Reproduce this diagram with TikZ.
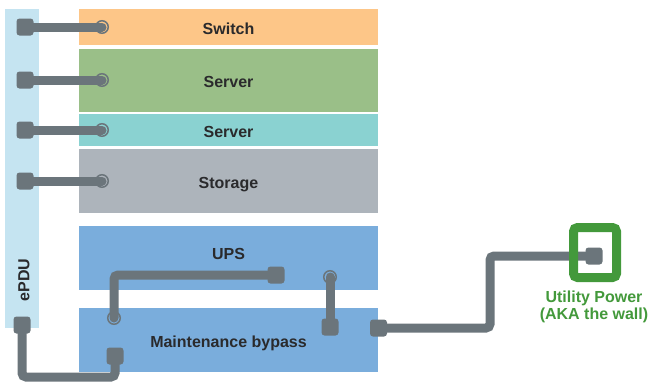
\documentclass[tikz,border=0pt]{standalone}
\usepackage{fontspec}
\setmainfont{Liberation Sans}
\usetikzlibrary{positioning}
\definecolor{cablegray}{HTML}{6B757B}
\definecolor{labeltext}{HTML}{2A2A2C}
\definecolor{switchc}{HTML}{FDC688}
\definecolor{serverc}{HTML}{9ABF88}
\definecolor{serverbc}{HTML}{8AD2D1}
\definecolor{storagec}{HTML}{ADB4BB}
\definecolor{upsc}{HTML}{7AADDC}
\definecolor{epduc}{HTML}{C5E4F1}
\definecolor{wallgreen}{HTML}{43993B}
\pgfdeclarelayer{bg}
\pgfdeclarelayer{wires}
\pgfsetlayers{bg,wires,main}
\tikzset{
  boxtext/.style={font=\bfseries\fontsize{16}{17}\selectfont, text=labeltext, text height=15pt, text depth=0pt},
  unit/.style={fill=#1, minimum width=299pt, inner sep=0pt, boxtext},
  plug/.style={fill=cablegray, rounded corners=3pt, minimum size=17pt, inner sep=0pt},
  port/.style={circle, draw=cablegray, line width=1.5pt, minimum size=12.5pt, inner sep=0pt},
  cable/.style={draw=cablegray, line width=9pt, line cap=round, rounded corners=4pt},
  wall/.style={draw=wallgreen, line width=9pt, rounded corners=4pt, minimum width=43pt, minimum height=50pt},
  walltext/.style={font=\bfseries\fontsize{16}{17}\selectfont, text=wallgreen, align=center}
}
\begin{document}
\begin{tikzpicture}[x=1pt,y=-1pt]
  \useasboundingbox (0,0) rectangle (649,381);
  \begin{pgfonlayer}{bg}
    \node[fill=epduc, minimum width=34pt, minimum height=319pt] (epdu) at (22,168.5) {};
    \node[unit=switchc, minimum height=36pt] (switch) at (228.5,27) {Switch};
    \node[unit=serverc, minimum height=63pt] (server) at (228.5,80) {Server};
    \node[unit=serverbc, minimum height=32pt] (serverb) at (228.5,130) {Server};
    \node[unit=storagec, minimum height=64pt] (storage) at (228.5,181) {Storage};
    \node[unit=upsc, minimum height=64pt] (ups) at (228.5,258) {};
    \node[unit=upsc, minimum height=64pt] (bypass) at (228.5,340) {Maintenance bypass};
  \end{pgfonlayer}
  \node[boxtext] (ups-label) at ([yshift=6.5pt]ups.center) {UPS};
  \node[font=\bfseries\fontsize{16}{17}\selectfont, text=labeltext, rotate=90] (epdu-label) at (24,280) {ePDU};

  \foreach \name/\y in {switch/27, server/80, serverb/130, storage/181} {
    \node[plug] (pdu-\name) at (25,\y) {};
    \node[port] (in-\name) at (102,\y) {};
    \begin{pgfonlayer}{wires}
      \draw[cable] (pdu-\name.center) -- (in-\name.center);
    \end{pgfonlayer}
  }

  \node[plug] (pdu-out) at (22,325) {};
  \node[plug] (bypass-in) at (115,356) {};
  \node[port] (bypass-ret) at (114,318) {};
  \node[plug] (ups-out) at (276,275) {};
  \node[port] (ups-in) at (330,277) {};
  \node[plug] (bypass-out) at (330,327) {};
  \node[plug] (bypass-main) at (378.5,328) {};
  \node[wall] (wall) at (595,252.5) {};
  \node[plug] (wall-plug) at (594,256) {};
  \node[walltext] (wall-label) at (594,306.5) {Utility Power\\(AKA the wall)};

  \begin{pgfonlayer}{wires}
    \draw[cable] (pdu-out.center) -- ++(0,52) -| (bypass-in.center);
    \draw[cable] (ups-out.center) -| (bypass-ret.center);
    \draw[cable] (ups-in.center) -- (bypass-out.center);
    \draw[cable] (bypass-main.center) -- ++(111.5,0) |- (wall-plug.center);
  \end{pgfonlayer}
\end{tikzpicture}
\end{document}
